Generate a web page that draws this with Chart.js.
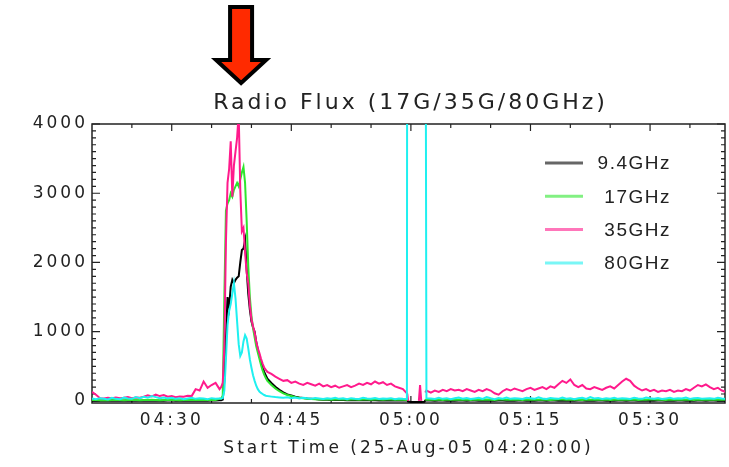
<!DOCTYPE html>
<html lang="en">
<head>
    <meta charset="UTF-8">
    <title>Radio Flux (17G/35G/80GHz)</title>
    <script src="https://cdn.jsdelivr.net/npm/chart.js"></script>
    <style>
        html, body {
            margin: 0;
            padding: 0;
            background: #ffffff;
        }
        .chart-container {
            position: relative;
            width: 729px;
            height: 467px;
        }
    </style>
</head>
<body>
    <div class="chart-container">
        <canvas id="fluxChart"></canvas>
    </div>

    <script>
        // minutes after the start time 04:20:00
        const minutes = [
            0, 0.5, 1, 1.5, 2, 2.5, 3, 3.5, 4, 4.5, 5, 5.5, 6, 6.5, 7, 7.5, 8, 8.5, 9, 9.5,
            10, 10.5, 11, 11.5, 12, 12.5, 13, 13.5, 14, 14.5, 15, 15.5, 16,
            16.2, 16.4, 16.6, 16.8, 17, 17.2, 17.4, 17.6, 17.8, 18, 18.2, 18.4, 18.6, 18.8,
            19, 19.2, 19.4, 19.6, 19.8, 20, 20.2, 20.4, 20.6, 20.8, 21, 21.2, 21.4, 21.6, 21.8, 22,
            22.5, 23, 23.5, 24, 24.5, 25, 25.5, 26, 26.5, 27, 27.5, 28, 28.5, 29, 29.5, 30,
            30.5, 31, 31.5, 32, 32.5, 33, 33.5, 34, 34.5, 35, 35.5, 36, 36.5, 37, 37.5, 38, 38.5, 39, 39.5,
            39.55, 39.65, 40, 40.5, 41, 41.15, 41.3, 41.7, 41.8, 41.95,
            42.5, 43, 43.5, 44, 44.5, 45, 45.5, 46, 46.5, 47, 47.5, 48, 48.5, 49, 49.5, 50,
            50.5, 51, 51.5, 52, 52.5, 53, 53.5, 54, 54.5, 55, 55.5, 56, 56.5, 57, 57.5, 58, 58.5, 59, 59.5, 60,
            60.5, 61, 61.5, 62, 62.5, 63, 63.5, 64, 64.5, 65, 65.5, 66, 66.5, 67, 67.5, 68, 68.5, 69, 69.5, 70,
            70.5, 71, 71.5, 72, 72.5, 73, 73.5, 74, 74.5, 75, 75.5, 76, 76.5, 77, 77.5, 78, 78.5, 79, 79.5
        ];

        const flux94 = [
            4, 5, 3, 4, 6, 4, 5, 3, 4, 5, 4, 6, 3, 5, 4, 4, 5, 3, 4, 6, 5, 4, 3, 5, 4, 6, 4, 5, 3, 4, 5, 6, 8,
            8, 20, 300, 900, 1500, 1350, 1650, 1750, 1700, 1750, 1780, 1800, 2000, 2180, 2200, 2320, 1900, 1550, 1320,
            1150, 1060, 1000, 850, 740, 650, 560, 480, 420, 370, 320,
            260, 205, 160, 125, 95, 78, 62, 50, 42, 35, 30, 26, 20, 18, 16, 15, 14, 12, 12, 11,
            10, 10, 9, 9, 8, 8, 8, 7, 7, 7, 6, 6, 6, 5, 5,
            5, -10, -15, -15, -15, -12, -15, -12, 5, 6,
            5, 4, 6, 5, 3, 5, 4, 6, 5, 4, 5, 6, 4, 5, 3, 5, 4, 6, 5, 4,
            5, 4, 6, 5, 3, 5, 4, 6, 5, 4, 5, 6, 4, 5, 3, 5, 4, 6, 5, 4,
            5, 4, 6, 5, 3, 5, 4, 6, 5, 4, 5, 6, 4, 5, 3, 5, 4, 6, 5, 4,
            5, 4, 6, 5, 3, 5, 4, 6, 5, 4, 5, 6, 4, 5, 3
        ];

        const flux17 = [
            12, 15, 10, 14, 11, 13, 16, 12, 10, 14, 12, 15, 11, 13, 12, 16, 14, 11, 13, 15,
            12, 14, 10, 13, 15, 12, 14, 16, 13, 15, 12, 14, 30,
            30, 80, 1500, 2750, 2850, 2900, 3000, 2950, 3050, 3100, 3150, 3100, 3200, 3300, 3380, 3150, 2600, 1950, 1500,
            1230, 1050, 920, 790, 700, 610, 520, 440, 380, 330, 290,
            230, 180, 140, 110, 85, 70, 55, 45, 38, 32, 28, 25, 22, 20, 24, 18, 21, 19, 23, 17,
            20, 22, 18, 21, 19, 17, 20, 22, 18, 19, 21, 17, 20, 18, 15,
            15, null, null, null, null, null, null, null, 15, 18,
            18, 16, 20, 15, 19, 17, 21, 16, 18, 20, 15, 19, 17, 16, 20, 18, 15, 19, 21, 17,
            16, 18, 20, 15, 19, 17, 18, 16, 20, 18, 15, 17, 19, 21, 16, 18, 20, 17, 15, 19,
            18, 16, 20, 17, 19, 15, 18, 21, 16, 19, 17, 20, 15, 18, 16, 19, 21, 17, 18, 15,
            20, 16, 19, 17, 18, 21, 15, 19, 17, 16, 20, 18, 16, 19, 17
        ];

        const flux35 = [
            130, 90, 40, 35, 45, 40, 50, 40, 45, 55, 40, 50, 45, 60, 80, 65, 90, 70, 85, 60,
            70, 55, 65, 60, 75, 70, 170, 150, 280, 190, 230, 260, 170,
            200, 260, 800, 2300, 3150, 3350, 3750, 2950, 3400, 3600, 3800, 4150, 3050, 2450, 2500, 2150, 1850, 1700, 1380,
            1180, 1080, 990, 860, 760, 690, 610, 540, 480, 450, 420,
            390, 350, 320, 290, 300, 260, 280, 250, 230, 260, 240, 220, 250, 210, 230, 200, 220, 190, 210, 230,
            200, 220, 250, 230, 260, 240, 280, 250, 270, 230, 250, 210, 190, 170, 110,
            100, 0, null, null, 0, 230, 0, null, 120, 150,
            120, 150, 130, 160, 140, 170, 150, 160, 140, 170, 150, 130, 160, 140, 170, 150, 110, 90, 140, 170,
            150, 180, 160, 140, 170, 190, 160, 180, 200, 170, 210, 190, 240, 290, 260, 310, 230, 200, 230, 180,
            170, 200, 180, 160, 190, 210, 180, 230, 280, 320, 290, 220, 180, 150, 170, 140, 160, 130, 150, 140,
            160, 130, 150, 140, 170, 150, 190, 230, 210, 240, 200, 170, 190, 150, 130
        ];

        const flux80 = [
            35, 25, 40, 30, 20, 45, 30, 25, 50, 35, 30, 55, 40, 60, 45, 70, 55, 40, 50, 35,
            45, 30, 40, 25, 35, 45, 30, 40, 35, 25, 40, 30, 35,
            35, 40, 150, 600, 1100, 1300, 1400, 1550, 1700, 1480, 1150, 820, 650, 700, 860, 950, 900, 760, 600,
            480, 370, 290, 220, 170, 135, 115, 100, 85, 75, 70,
            62, 55, 50, 45, 52, 40, 48, 35, 45, 38, 30, 42, 35, 28, 40, 32, 45, 30, 38, 25,
            40, 33, 28, 45, 35, 30, 42, 28, 36, 30, 40, 25, 35, 30, 28,
            9000, null, null, null, null, null, null, null, 9000, 40,
            35, 28, 45, 30, 40, 25, 38, 50, 32, 42, 28, 36, 45, 30, 55, 38, 26, 42, 33, 48,
            30, 40, 35, 27, 45, 38, 30, 52, 35, 28, 42, 36, 30, 48, 33, 40, 26, 38, 45, 30,
            55, 35, 42, 28, 38, 32, 46, 30, 40, 35, 28, 44, 36, 30, 50, 38, 32, 42, 27, 36,
            45, 30, 40, 34, 48, 28, 38, 43, 32, 36, 40, 30, 45, 35, 30
        ];

        const seriesLabels = ['9.4GHz', '17GHz', '35GHz', '80GHz'];
        const xTickMinutes = [10, 25, 40, 55, 70];
        const xTickLabels = ['04:30', '04:45', '05:00', '05:15', '05:30'];
        const yTickValues = [0, 1000, 2000, 3000, 4000];
        const arrowMinute = 18.7;

        const axisFont = { family: 'DejaVu Sans', size: 17 };
        const textColor = '#222222';

        function toPoints(values) {
            return minutes.map((t, i) => ({ x: t, y: values[i] }));
        }

        // box, inward ticks on all four sides (drawn under the curves)
        const frameAxes = {
            id: 'frameAxes',
            beforeDraw(chart) {
                chart.ctx.letterSpacing = '3px';
            },
            beforeDatasetsDraw(chart) {
                const { ctx, chartArea: a, scales: { x, y } } = chart;
                ctx.save();
                ctx.strokeStyle = '#222222';
                ctx.lineWidth = 1.5;
                ctx.strokeRect(a.left, a.top, a.right - a.left, a.bottom - a.top);
                ctx.lineWidth = 1.2;
                ctx.beginPath();
                for (let m = 5; m < x.max; m += 5) {
                    const px = x.getPixelForValue(m);
                    const len = (m - 10) % 15 === 0 ? 7 : 4;
                    ctx.moveTo(px, a.top); ctx.lineTo(px, a.top + len);
                    ctx.moveTo(px, a.bottom); ctx.lineTo(px, a.bottom - len);
                }
                for (let v = 0; v <= 4000; v += 100) {
                    const py = y.getPixelForValue(v);
                    const len = v % 1000 === 0 ? 8 : 4;
                    ctx.moveTo(a.left, py); ctx.lineTo(a.left + len, py);
                    ctx.moveTo(a.right, py); ctx.lineTo(a.right - len, py);
                }
                ctx.stroke();
                ctx.restore();
            },
            afterDraw(chart) {
                const { ctx, chartArea: a, scales: { x } } = chart;
                ctx.save();

                // title over the plot box
                ctx.letterSpacing = '3px';
                ctx.fillStyle = textColor;
                ctx.font = '22px "DejaVu Sans"';
                ctx.textAlign = 'center';
                ctx.textBaseline = 'middle';
                ctx.fillText('Radio Flux (17G/35G/80GHz)', (a.left + a.right) / 2 + 2, 103);

                // red arrow marking the flare
                const cx = x.getPixelForValue(arrowMinute);
                ctx.beginPath();
                ctx.moveTo(cx - 11, 7);
                ctx.lineTo(cx + 11, 7);
                ctx.lineTo(cx + 11, 60);
                ctx.lineTo(cx + 25, 60);
                ctx.lineTo(cx, 83);
                ctx.lineTo(cx - 25, 60);
                ctx.lineTo(cx - 11, 60);
                ctx.closePath();
                ctx.fillStyle = '#ff2a00';
                ctx.fill();
                ctx.lineWidth = 4;
                ctx.strokeStyle = '#000000';
                ctx.lineJoin = 'miter';
                ctx.stroke();

                // legend inside the plot, top right
                ctx.letterSpacing = '1.5px';
                ctx.font = '19px "Liberation Sans"';
                ctx.textAlign = 'right';
                chart.data.datasets.forEach((ds, i) => {
                    const ly = 163 + i * 33.3;
                    ctx.globalAlpha = 0.6;
                    ctx.strokeStyle = ds.borderColor;
                    ctx.lineWidth = 3;
                    ctx.beginPath();
                    ctx.moveTo(a.right - 180, ly);
                    ctx.lineTo(a.right - 142, ly);
                    ctx.stroke();
                    ctx.globalAlpha = 1;
                    ctx.fillStyle = textColor;
                    ctx.fillText(ds.label, a.right - 54, ly + 1);
                });
                ctx.restore();
            }
        };

        const datasets = [
            { label: seriesLabels[0], data: toPoints(flux94), borderColor: '#000000', order: 3 },
            { label: seriesLabels[1], data: toPoints(flux17), borderColor: '#2ee62e', order: 2 },
            { label: seriesLabels[2], data: toPoints(flux35), borderColor: '#ff1a8c', order: 1 },
            { label: seriesLabels[3], data: toPoints(flux80), borderColor: '#1ff0f0', order: 0 }
        ].map(ds => Object.assign(ds, { borderWidth: 2, pointRadius: 0, fill: false, tension: 0 }));

        const ctx = document.getElementById('fluxChart').getContext('2d');
        const fluxChart = new Chart(ctx, {
            type: 'line',
            data: { datasets: datasets },
            options: {
                responsive: true,
                maintainAspectRatio: false,
                animation: false,
                layout: {
                    padding: { top: 124, right: 4, bottom: 8, left: 0 }
                },
                plugins: {
                    legend: { display: false },
                    tooltip: { enabled: false }
                },
                scales: {
                    x: {
                        type: 'linear',
                        min: 0,
                        max: 79.4,
                        grid: { display: false, drawTicks: false },
                        border: { display: false },
                        afterBuildTicks: scale => {
                            scale.ticks = xTickMinutes.map(v => ({ value: v }));
                        },
                        afterFit: scale => {
                            scale.height = 56;
                        },
                        ticks: {
                            padding: 7,
                            autoSkip: false,
                            maxRotation: 0,
                            color: textColor,
                            font: axisFont,
                            callback: value => xTickLabels[xTickMinutes.indexOf(value)]
                        },
                        title: {
                            display: true,
                            text: 'Start Time (25-Aug-05 04:20:00)',
                            color: textColor,
                            font: axisFont,
                            padding: 0
                        }
                    },
                    y: {
                        min: -30,
                        max: 4000,
                        grid: { display: false, drawTicks: false },
                        border: { display: false },
                        afterBuildTicks: scale => {
                            scale.ticks = yTickValues.map(v => ({ value: v }));
                        },
                        afterFit: scale => {
                            scale.width = 92;
                        },
                        ticks: {
                            padding: 4,
                            color: textColor,
                            font: axisFont,
                            callback: value => String(value)
                        }
                    }
                }
            },
            plugins: [frameAxes]
        });
    </script>
</body>
</html>
